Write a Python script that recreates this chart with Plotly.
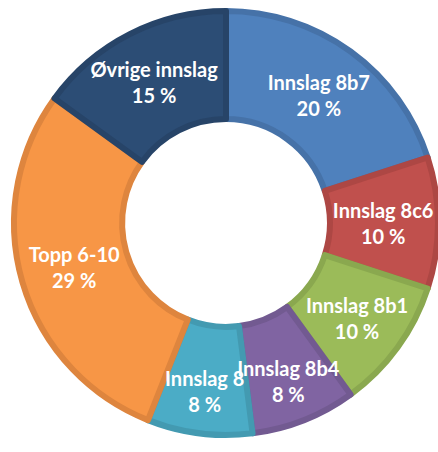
import plotly.graph_objects as go

labels = ["Innslag 8b7", "Innslag 8c6", "Innslag 8b1", "Innslag 8b4", "Innslag 8", "Topp 6-10", "Øvrige innslag"]
values = [20, 10, 10, 8, 8, 29, 15]
fill_colors = ["#4F81BD", "#C0504D", "#9BBB59", "#8064A2", "#4BACC6", "#F79646", "#2C4D75"]
edge_colors = ["#4672A8", "#AD4744", "#8AA84F", "#725A91", "#439AB1", "#DE853E", "#274468"]

texts = [f"{l}<br>{v} %" for l, v in zip(labels, values)]
domain = dict(x=[14/438, 1.0], y=[(452-438)/452, (452-8)/452])

common = dict(
    labels=labels, values=values, sort=False, direction="clockwise",
    rotation=0, hole=0.49, domain=domain, showlegend=False,
)

fig = go.Figure()
# coloured ring
fig.add_trace(go.Pie(
    **common,
    textinfo="none",
    hoverinfo="label+percent",
    marker=dict(colors=fill_colors, line=dict(color=edge_colors, width=6)),
))
# transparent overlay carrying the labels so they sit above every slice
fig.add_trace(go.Pie(
    **common,
    text=texts,
    textinfo="text",
    hoverinfo="skip",
    marker=dict(colors=["rgba(0,0,0,0)"] * len(values), line=dict(width=0)),
    textposition="inside",
    insidetextorientation="horizontal",
    textfont=dict(family="Lato, 'Open Sans', sans-serif", size=20, color="white", weight="bold"),
))
fig.update_layout(
    width=438, height=452,
    margin=dict(l=0, r=0, t=0, b=0),
    paper_bgcolor="white",
    uniformtext=dict(minsize=20, mode="show"),
)
fig.write_html("out.html", config={"displayModeBar": False},
               post_script="document.body.style.margin='0px';document.body.style.overflow='hidden';")
